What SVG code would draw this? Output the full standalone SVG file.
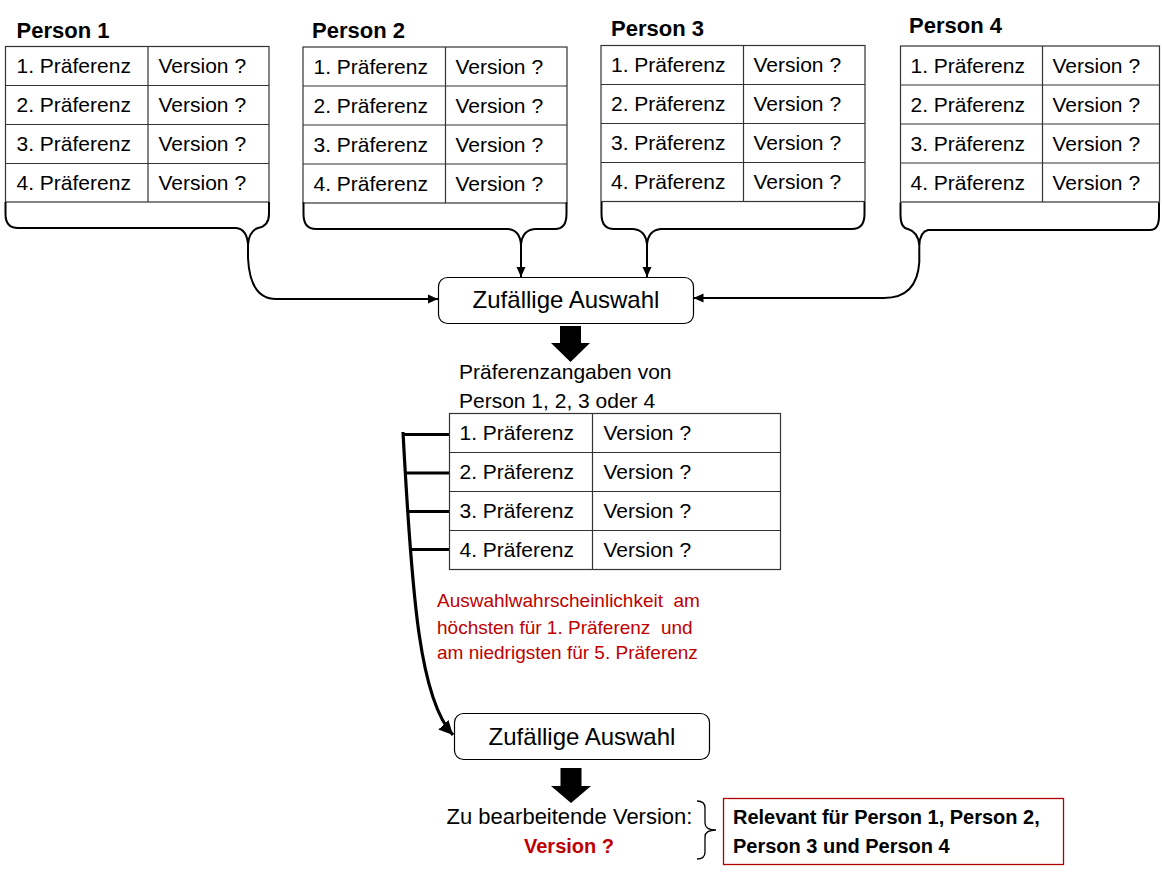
<svg xmlns="http://www.w3.org/2000/svg" width="1162" height="874" viewBox="0 0 1162 874">
<style>
.t{font-family:"Liberation Sans",Arial,sans-serif;font-size:21px;fill:#000}
.h{font-family:"Liberation Sans",Arial,sans-serif;font-size:22px;font-weight:bold;fill:#000}
.tb{fill:#fff;stroke:#333;stroke-width:1.2}
.ln{stroke:#333;stroke-width:1.2;fill:none}
.br{fill:none;stroke:#000;stroke-width:2}
.con{fill:none;stroke:#000;stroke-width:2}
.thick{fill:none;stroke:#000;stroke-width:3.2}
.box{fill:#fff;stroke:#000;stroke-width:1.2}
.red{font-family:"Liberation Sans",Arial,sans-serif;font-size:19px;fill:#c00000;white-space:pre}
</style>
<defs>
<marker id="ah" markerUnits="userSpaceOnUse" markerWidth="12" markerHeight="10" refX="10" refY="5" orient="auto">
<path d="M0,0.5 L10,5 L0,9.5 z" fill="#000"/>
</marker>
<marker id="ahb" markerUnits="userSpaceOnUse" markerWidth="16" markerHeight="14" refX="14" refY="7" orient="auto">
<path d="M0,0 L14,7 L0,14 z" fill="#000"/>
</marker>
</defs>
<rect width="1162" height="874" fill="#fff"/>

<g id="person1">
<text class="h" x="16.5" y="37.5">Person 1</text>
<rect class="tb" x="5.5" y="46.5" width="263.5" height="155.5"/>
<path class="ln" d="M148,46.5 V202 M5.5,85.5 H269 M5.5,124.5 H269 M5.5,163.5 H269"/>
<text class="t" x="16.5" y="73">1. Präferenz</text><text class="t" x="158.5" y="73">Version ?</text>
<text class="t" x="16.5" y="112">2. Präferenz</text><text class="t" x="158.5" y="112">Version ?</text>
<text class="t" x="16.5" y="151">3. Präferenz</text><text class="t" x="158.5" y="151">Version ?</text>
<text class="t" x="16.5" y="190">4. Präferenz</text><text class="t" x="158.5" y="190">Version ?</text>
</g>

<g id="person2">
<text class="h" x="312" y="37.5">Person 2</text>
<rect class="tb" x="303" y="47" width="264" height="156"/>
<path class="ln" d="M445.5,47 V203 M303,86 H567 M303,125 H567 M303,164 H567"/>
<text class="t" x="313.5" y="73.5">1. Präferenz</text><text class="t" x="455.5" y="73.5">Version ?</text>
<text class="t" x="313.5" y="112.5">2. Präferenz</text><text class="t" x="455.5" y="112.5">Version ?</text>
<text class="t" x="313.5" y="151.5">3. Präferenz</text><text class="t" x="455.5" y="151.5">Version ?</text>
<text class="t" x="313.5" y="190.5">4. Präferenz</text><text class="t" x="455.5" y="190.5">Version ?</text>
</g>

<g id="person3">
<text class="h" x="611" y="35.5">Person 3</text>
<rect class="tb" x="601" y="45.5" width="264" height="156"/>
<path class="ln" d="M743.5,45.5 V201.5 M601,84.5 H865 M601,123.5 H865 M601,162.5 H865"/>
<text class="t" x="611" y="72">1. Präferenz</text><text class="t" x="753.5" y="72">Version ?</text>
<text class="t" x="611" y="111">2. Präferenz</text><text class="t" x="753.5" y="111">Version ?</text>
<text class="t" x="611" y="150">3. Präferenz</text><text class="t" x="753.5" y="150">Version ?</text>
<text class="t" x="611" y="189">4. Präferenz</text><text class="t" x="753.5" y="189">Version ?</text>
</g>

<g id="person4">
<text class="h" x="909" y="32.5">Person 4</text>
<rect class="tb" x="900.5" y="46" width="259" height="156"/>
<path class="ln" d="M1042.5,46 V202 M900.5,85 H1159.5 M900.5,124 H1159.5 M900.5,163 H1159.5"/>
<text class="t" x="910.5" y="72.5">1. Präferenz</text><text class="t" x="1052.5" y="72.5">Version ?</text>
<text class="t" x="910.5" y="111.5">2. Präferenz</text><text class="t" x="1052.5" y="111.5">Version ?</text>
<text class="t" x="910.5" y="150.5">3. Präferenz</text><text class="t" x="1052.5" y="150.5">Version ?</text>
<text class="t" x="910.5" y="189.5">4. Präferenz</text><text class="t" x="1052.5" y="189.5">Version ?</text>
</g>

<g id="braces">
<path class="br" d="M5.5,202 V214 Q5.5,228 18,228 H236 Q247,229 248,245"/>
<path class="br" d="M269,202 V214 Q269,226 258,228 Q249,231 248,245"/>
<path class="br" d="M303.5,202.5 V214 Q303.5,229 316,229 H508 Q520,230 521,245"/>
<path class="br" d="M566.5,202.5 V214 Q566.5,229 555,229 H535 Q522,230 521,245"/>
<path class="br" d="M601.5,202 V214 Q601.5,229 614,229 H633 Q646,230 647,245"/>
<path class="br" d="M864.5,202 V214 Q864.5,229 852,229 H661 Q648,230 647,245"/>
<path class="br" d="M900.5,202.5 V215 Q900.5,228 908,229 Q918,232 919.3,245"/>
<path class="br" d="M1159,202.5 V216 Q1159,230 1150,230 H928 Q920,232 919.3,245"/>
</g>

<g id="zufall1">
<rect class="box" x="438.5" y="277.5" width="255" height="46" rx="9"/>
<text class="t" x="566" y="307.5" text-anchor="middle" style="font-size:24px">Zufällige Auswahl</text>
</g>

<g id="connectors">
<path class="con" d="M248,245 V258 Q250,299 276,299 H438" marker-end="url(#ah)"/>
<path class="con" d="M521,245 V277" marker-end="url(#ah)"/>
<path class="con" d="M647,245 V277" marker-end="url(#ah)"/>
<path class="con" d="M919.3,245 V262 Q917,298 884,298 H693.5" marker-end="url(#ah)"/>
<polygon points="560,326 581,326 581,343 590,343 570.5,362 551,343 560,343" fill="#000"/>
<path class="thick" d="M404,434.5 H449.5 M406,473 H449.5 M408,511.5 H449.5 M411.5,549.5 H450"/>
<path class="thick" d="M403,432 C412,600 420,700 453,735" marker-end="url(#ahb)"/>
<polygon points="560.5,768 581.5,768 581.5,786 591,786 571,803 551,786 560.5,786" fill="#000"/>
<path fill="none" stroke="#000" stroke-width="1.3" d="M697,801 Q705,801 705,808 V823 Q705,830 716,830 Q705,830 705,837 V852 Q705,859 697,859"/>
</g>

<g id="auswahl">
<text class="t" x="459" y="379">Präferenzangaben von</text>
<text class="t" x="459" y="407.5">Person 1, 2, 3 oder 4</text>
<rect class="tb" x="449.5" y="413.5" width="331" height="156"/>
<path class="ln" d="M592.5,413.5 V569.5 M449.5,452.5 H780.5 M449.5,491.5 H780.5 M449.5,530.5 H780.5"/>
<text class="t" x="459.5" y="440">1. Präferenz</text><text class="t" x="603.5" y="440">Version ?</text>
<text class="t" x="459.5" y="479">2. Präferenz</text><text class="t" x="603.5" y="479">Version ?</text>
<text class="t" x="459.5" y="518">3. Präferenz</text><text class="t" x="603.5" y="518">Version ?</text>
<text class="t" x="459.5" y="557">4. Präferenz</text><text class="t" x="603.5" y="557">Version ?</text>
</g>

<g id="hinweis">
<text class="red" x="437" y="607">Auswahlwahrscheinlichkeit  am</text>
<text class="red" x="437" y="633.5">höchsten für 1. Präferenz  und</text>
<text class="red" x="437" y="659">am niedrigsten für 5. Präferenz</text>
</g>

<g id="zufall2">
<rect class="box" x="454.5" y="713.5" width="255" height="46" rx="9"/>
<text class="t" x="582" y="745" text-anchor="middle" style="font-size:24px">Zufällige Auswahl</text>
</g>

<g id="ergebnis">
<text class="t" x="569.5" y="824" text-anchor="middle" style="font-size:22px">Zu bearbeitende Version:</text>
<text class="h" x="569" y="852.5" text-anchor="middle" style="font-size:20px;fill:#c00000">Version ?</text>
</g>

<g id="relevant">
<rect x="723.5" y="798.5" width="340" height="66" fill="#fff" stroke="#b00000" stroke-width="1.3"/>
<text class="h" x="733" y="823.5" style="font-size:20px">Relevant für Person 1, Person 2,</text>
<text class="h" x="733" y="852.5" style="font-size:20px">Person 3 und Person 4</text>
</g>
</svg>
